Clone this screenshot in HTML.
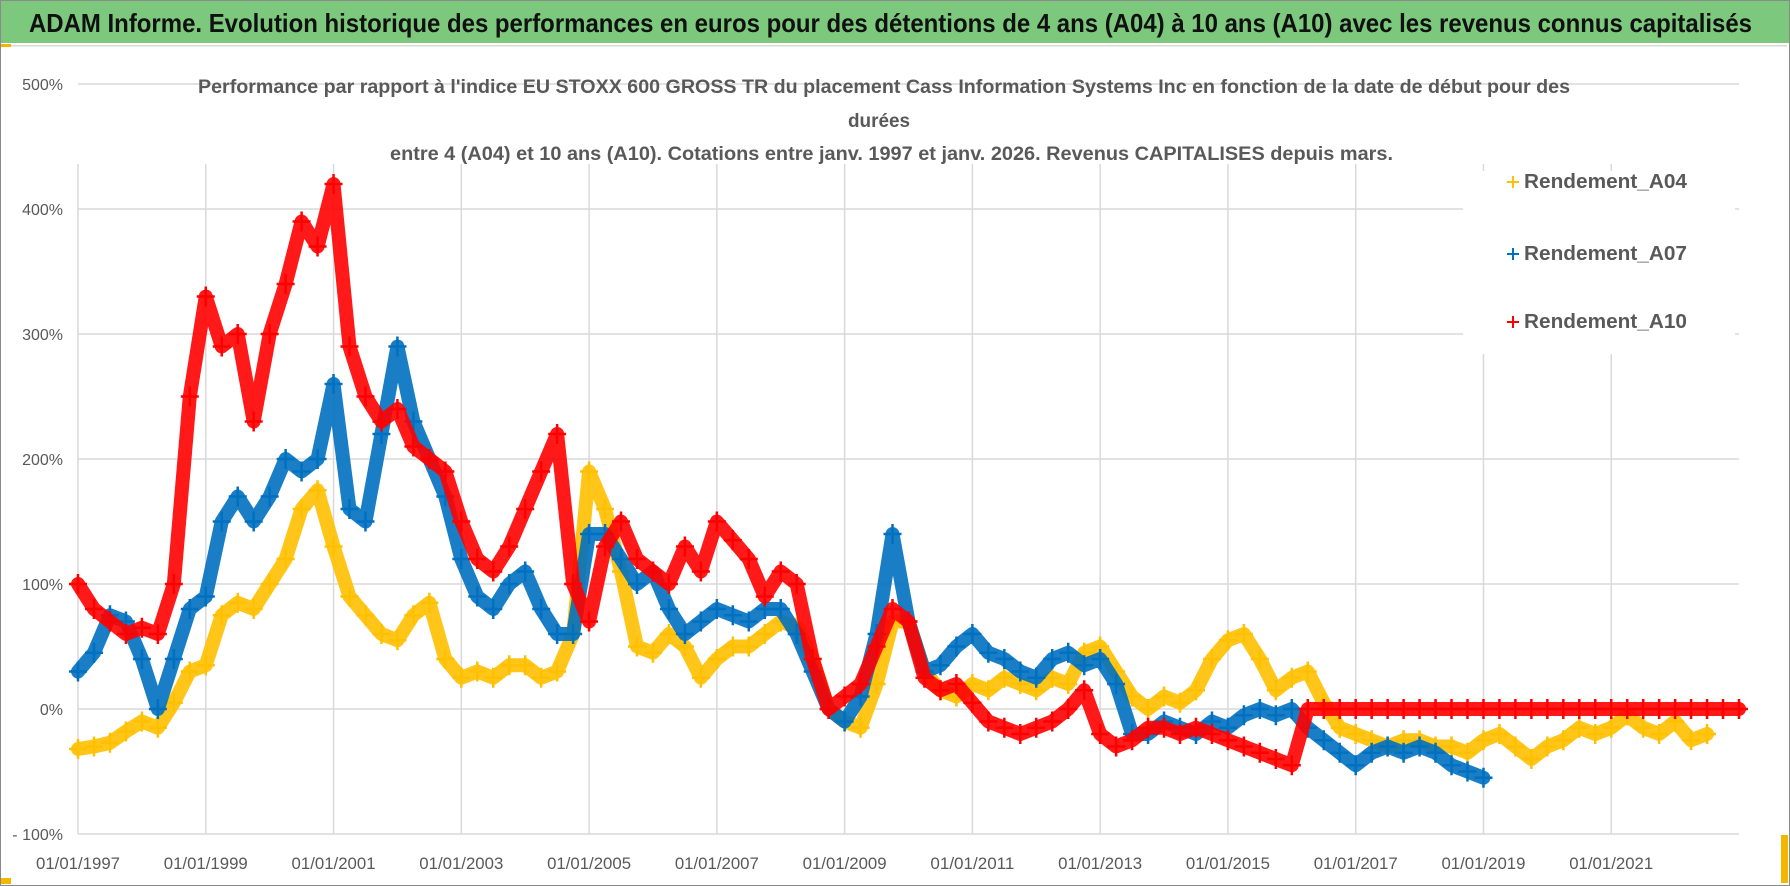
<!DOCTYPE html>
<html><head><meta charset="utf-8"><style>
html,body{margin:0;padding:0;background:#fff;}
svg{display:block;font-family:"Liberation Sans",sans-serif;}
</style></head><body>
<svg id="chart" width="1790" height="886" viewBox="0 0 1790 886" xmlns="http://www.w3.org/2000/svg">
<rect x="0.5" y="0.5" width="1789" height="885" fill="#fff" stroke="#8a8a8a"/>
<rect x="1" y="1" width="1788" height="42" fill="#7cc87c"/>
<text x="29" y="32" font-size="26" font-weight="bold" fill="#111" textLength="1723" lengthAdjust="spacingAndGlyphs">ADAM Informe. Evolution historique des performances en euros pour des détentions de 4 ans (A04) à 10 ans (A10) avec les revenus connus capitalisés</text>
<rect x="3" y="45" width="1784" height="1.5" fill="#d9d9d9"/>
<rect x="1" y="44" width="10" height="3" fill="#f2b800"/>
<rect x="1" y="878" width="10" height="6" fill="#f2b800"/>
<rect x="1781" y="835" width="7" height="48" fill="#f2b800"/>
<g id="grid"></g>
<g id="ylabels"></g>
<g id="xlabels"></g>
<rect x="1463" y="171" width="272" height="183" fill="#fff"/>
<text x="198" y="93" font-size="19" font-weight="bold" fill="#595959" textLength="1372" lengthAdjust="spacingAndGlyphs">Performance par rapport à l'indice EU STOXX 600 GROSS TR  du placement Cass Information Systems Inc en fonction de la date de début pour des</text>
<text x="879" y="127" font-size="19" font-weight="bold" fill="#595959" text-anchor="middle" textLength="62" lengthAdjust="spacingAndGlyphs">durées</text>
<text x="390" y="160" font-size="19" font-weight="bold" fill="#595959" textLength="1003" lengthAdjust="spacingAndGlyphs">entre 4 (A04) et 10 ans (A10).  Cotations entre janv. 1997 et janv. 2026. Revenus CAPITALISES depuis mars.</text>
<g id="series"></g>
<g id="legend"></g>
</svg>
<script>
const years = [1997,1999,2001,2003,2005,2007,2009,2011,2013,2015,2017,2019,2021];
const yTicks = [-100,0,100,200,300,400,500];
const yTickLabels = ["- 100%","0%","100%","200%","300%","400%","500%"];
const startYear = 1997;
const step = 0.25;
const a04 = [-32,-30,-27,-18, -10,-15,5,30, 35,75,85,80, 100,120,160,175, 130,90,75,60, 55,75,85,40, 25,30,25,35, 35,25,30,60, 190,160,110,50, 45,60,50,25, 40,50,50,60, 70,65,40,0, -10,-15,20,70, 70,30,15,10, 20,15,25,20, 15,25,20,45, 50,30,10,0, 10,5,15,40, 55,60,40,15, 25,30,5,-15, -20,-25,-30,-25, -25,-30,-30,-35, -25,-20,-30,-40, -30,-25,-15,-20, -15,-5,-15,-20, -10,-25,-20];
const a07 = [30,45,75,70, 40,0,40,80, 90,150,170,150, 170,200,190,200, 260,160,150,220, 290,230,200,170, 120,90,80,100, 110,80,60,60, 140,140,120,100, 110,80,60,70, 80,75,70,80, 80,60,30,0, -10,10,60,140, 70,30,35,50, 60,45,40,30, 25,40,45,35, 40,20,-20,-20, -10,-15,-20,-10, -15,-5,0,-5, 0,-15,-25,-35, -45,-35,-30,-35, -30,-35,-45,-50, -55];
const a10 = [100,80,70,60, 65,60,100,250, 330,290,300,230, 300,340,390,370, 420,290,250,230, 240,210,200,190, 150,120,110,130, 160,190,220,100, 70,130,150,120, 110,100,130,110, 150,135,120,90, 110,100,40,0, 10,20,50,80, 70,25,15,20, 5,-10,-15,-20, -15,-10,0,15, -20,-30,-25,-15, -15,-20,-15,-20, -25,-30,-35,-40, -45,0,0,0, 0,0,0,0, 0,0,0,0, 0,0,0,0, 0,0,0,0, 0,0,0,0, 0,0,0,0, 0];
const seriesNames = ["Rendement_A04","Rendement_A07","Rendement_A10"];
const seriesColors = ["#ffc000","#0070c0","#ff0000"];

const NS="http://www.w3.org/2000/svg";
const X0=78, X1=1739, Y0=709, PX_PER_PCT=1.25;
const xs = yr => X0 + (yr-1997)*(X1-X0)/26;
const ys = v => Y0 - v*PX_PER_PCT;
function mk(tag, attrs, parent){const e=document.createElementNS(NS,tag);for(const k in attrs)e.setAttribute(k,attrs[k]);parent.appendChild(e);return e;}
const grid=document.getElementById('grid'), yl=document.getElementById('ylabels'), xl=document.getElementById('xlabels');
yTicks.forEach((t,i)=>{
  const l=mk('line',{x1:X0,x2:X1,y1:ys(t),y2:ys(t),stroke:'#d9d9d9','stroke-width':1.5},grid);
  
  
  const tx=mk('text',{x:63,y:ys(t)+6,'font-size':16,fill:'#595959','text-anchor':'end'},yl);
  tx.textContent=yTickLabels[i];
  
  
});
years.forEach(yr=>{
  const l=mk('line',{x1:xs(yr),x2:xs(yr),y1:ys(400)-45,y2:ys(-100),stroke:'#d9d9d9','stroke-width':1.5},grid);
  
  
  const tx=mk('text',{x:xs(yr),y:869,'font-size':17,fill:'#595959','text-anchor':'middle',textLength:84,lengthAdjust:'spacingAndGlyphs'},xl);
  tx.textContent='01/01/'+yr;
  
  
});
const sg=document.getElementById('series');
[a04,a07,a10].forEach((arr,si)=>{
  const g=mk('g',{},sg);
  
  
  const pts=arr.map((v,i)=>xs(startYear+i*step)+','+ys(v)).join(' ');
  const pl=mk('polyline',{points:pts,fill:'none',stroke:seriesColors[si],'stroke-width':14,'stroke-linejoin':'round','stroke-linecap':'round',opacity:0.9},g);
  
  
  arr.forEach((v,i)=>{
    const cx=xs(startYear+i*step), cy=ys(v);
    const p=mk('path',{d:`M${cx-9},${cy}H${cx+9}M${cx},${cy-10}V${cy+10}`,stroke:seriesColors[si],'stroke-width':2.5},g);
    
    
  });
});
const lg=document.getElementById('legend');
const legY=[188,260,328];
seriesNames.forEach((n,i)=>{
  const g=mk('g',{},lg);
  
  
  mk('path',{d:`M${1507},${legY[i]-6}H${1519}M${1513},${legY[i]-12}V${legY[i]}`,stroke:seriesColors[i],'stroke-width':2},g);
  const t=mk('text',{x:1524,y:legY[i],'font-size':20,'font-weight':'bold',fill:'#595959',textLength:163,lengthAdjust:'spacingAndGlyphs'},g);
  t.textContent=n;
});
</script>
</body></html>
